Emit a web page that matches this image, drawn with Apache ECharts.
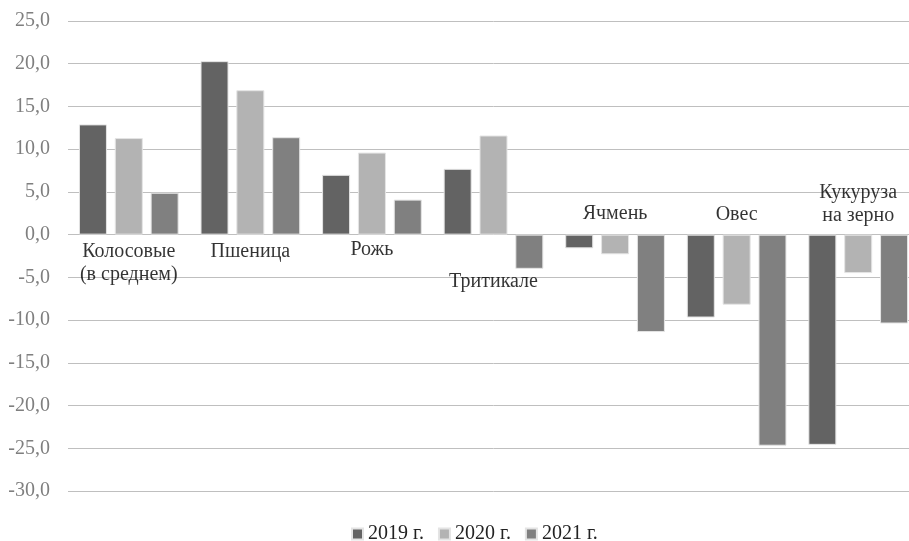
<!DOCTYPE html>
<html>
<head>
    <meta charset="utf-8">
    <title>ECharts</title>
    <script src="https://cdn.jsdelivr.net/npm/echarts@6/dist/echarts.min.js"></script>
</head>
<body style="margin:0;overflow:hidden">
    <!-- the plot runs a little past the right edge in the original, so the box is wider than the window -->
    <div id="main" style="width: 920px;height:541px;background:#fff"></div>
</body>
</html>

<script type="text/javascript">
    var categories = ['Колосовые\n(в среднем)', 'Пшеница', 'Рожь', 'Тритикале', 'Ячмень', 'Овес', 'Кукуруза\nна зерно'];
    var years = ['2019 г.', '2020 г.', '2021 г.'];
    var data2019 = [12.9, 20.3, 7.0, 7.7, -1.6, -9.7, -24.6];
    var data2020 = [11.3, 16.9, 9.6, 11.6, -2.3, -8.2, -4.5];
    var data2021 = [4.9, 11.4, 4.1, -4.0, -11.4, -24.7, -10.4];
    // where each category caption sits, in axis units
    var captionY = [-3.4, -2.0, -1.8, -5.5, 2.5, 2.3, 3.6];

    var colors = ['#636363', '#b3b3b3', '#808080'];
    var font = '"Liberation Serif", "DejaVu Serif", serif';

    var myChart = echarts.init(document.getElementById('main'));

    var barSeries = [data2019, data2020, data2021].map(function (d, i) {
        return {
            name: years[i],
            type: 'bar',
            barWidth: 28,
            barGap: '28%',
            itemStyle: { color: colors[i], borderColor: '#e4e4e4', borderWidth: 1 },
            data: d
        };
    });

    var captions = {
        type: 'scatter',
        symbolSize: 0,
        silent: true,
        z: 5,
        label: {
            show: true,
            position: 'inside',
            color: '#000',
            fontFamily: font,
            fontSize: 20,
            lineHeight: 23,
            align: 'center',
            formatter: function (p) { return categories[p.data[0]]; }
        },
        data: captionY.map(function (v, i) { return [i, v]; })
    };

    option = {
        backgroundColor: '#fff',
        animation: false,
        grid: { left: 68, top: 21, width: 851, height: 470 },
        legend: {
            data: years,
            top: 524,
            left: 351,
            padding: 0,
            itemWidth: 11,
            itemHeight: 11,
            itemGap: 14,
            icon: 'rect',
            textStyle: { fontFamily: font, fontSize: 20, color: '#222' }
        },
        xAxis: {
            type: 'category',
            data: categories,
            axisLine: { show: false },
            axisTick: { show: false },
            axisLabel: { show: false }
        },
        yAxis: {
            type: 'value',
            min: -30,
            max: 25,
            interval: 5,
            axisLine: { show: false },
            axisTick: { show: false },
            splitLine: { lineStyle: { color: '#bfbfbf', width: 1 } },
            axisLabel: {
                margin: 18,
                color: '#7f7f7f',
                fontFamily: font,
                fontSize: 20,
                formatter: function (v) { return v.toFixed(1).replace('.', ','); }
            }
        },
        series: barSeries.concat([captions])
    };

    myChart.setOption(option);
</script>
